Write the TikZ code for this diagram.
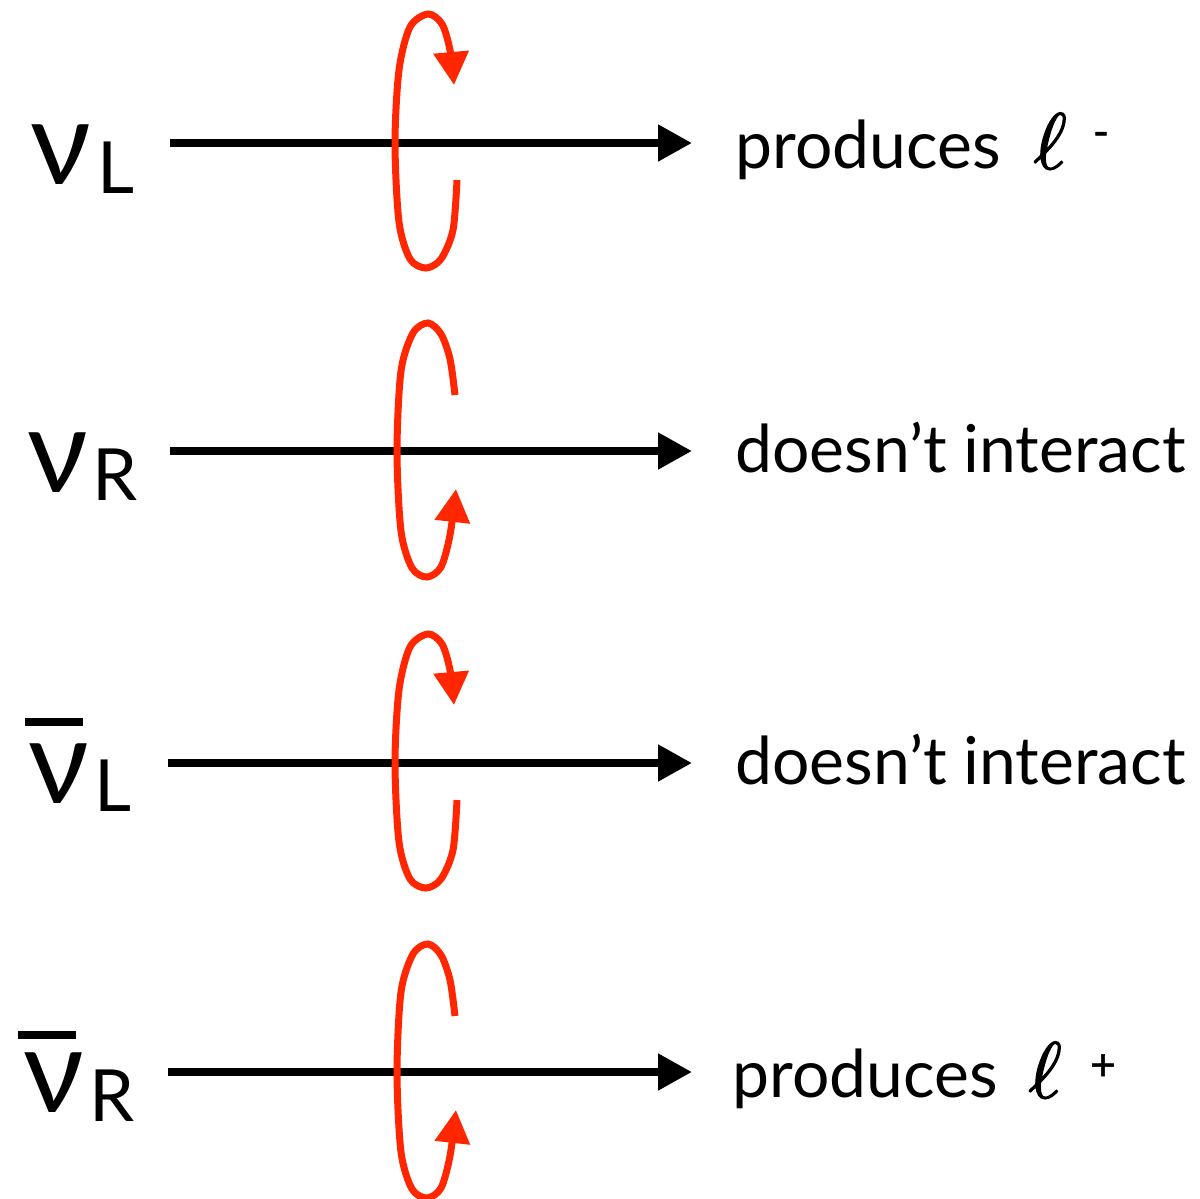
\documentclass[tikz,border=0pt]{standalone}
\usepackage{fontspec}
\setmainfont{Lato}
\newfontfamily\ellfont[FakeBold=1.6]{latinmodern-math.otf}
\newfontfamily\chgfont[FakeBold=1.2]{Lato}
\usetikzlibrary{arrows.meta}

\begin{document}
\begin{tikzpicture}[x=0.5pt, y=-0.5pt,
    axis/.style={line width=4pt, -{Triangle[length=17pt, width=17.5pt]}},
    spin/.style={line width=3.5pt, draw=spinred, -{Triangle[length=16.5pt, width=17pt]}},
    nu/.style={anchor=base west, inner sep=0pt, font=\fontsize{59}{60}\selectfont},
    hand/.style={anchor=base west, inner sep=0pt, font=\fontsize{36}{36}\selectfont},
    txt/.style={anchor=base west, inner sep=0pt, font=\fontsize{33}{36}\selectfont},
    lep/.style={anchor=base west, inner sep=0pt, font=\ellfont\fontsize{40}{40}\selectfont},
    chg/.style={anchor=base, inner sep=0pt, font=\chgfont\fontsize{22}{22}\selectfont}]
\definecolor{spinred}{RGB}{255,38,0}

\useasboundingbox (0,0) rectangle (1200,1199);

% ======================================================
% assi (frecce nere)
% ======================================================
\foreach \y/\n/\x in {143/1/170, 451/2/170, 763/3/168, 1072/4/168} {
    \coordinate (a\n) at (\x,\y);
    \coordinate (b\n) at (692,\y);
    \draw[axis] (a\n) -- (b\n);
}

% ======================================================
% spin (frecce rosse)
% ======================================================

% freccia in alto
\foreach \dy in {0,620} {
    \draw[spin]
        plot[smooth] coordinates {
        (457,180+\dy)
        (453,230+\dy)
        (441,259+\dy)
        (426,268+\dy)
        (410,259+\dy)
        (399,222+\dy)
        (395,143+\dy)
        (399,70+\dy)
        (410,27+\dy)
        (428,14+\dy)
        (442,24+\dy)
        (450,50+\dy)
        (454,85+\dy)
        };
}

% freccia in basso
\foreach \dy in {0,621} {
    \draw[spin]
        plot[smooth] coordinates {
        (455,395+\dy)
        (450,359+\dy)
        (441,334+\dy)
        (428,323+\dy)
        (413,333+\dy)
        (401,371+\dy)
        (397,451+\dy)
        (401,531+\dy)
        (412,568+\dy)
        (427,577+\dy)
        (441,567+\dy)
        (450,535+\dy)
        (456,489+\dy)
        };
}

% ======================================================
% etichette
% ======================================================
\node[nu]   (nu1) at (30,184) {ν};
\node[hand] (h1)  at (97,193) {L};

\node[nu]   (nu2) at (27,492) {ν};
\node[hand] (h2)  at (92,500) {R};

\node[nu]   (nu3) at (28,803) {ν};
\node[hand] (h3)  at (94,811) {L};
\draw[line width=4pt] (25,722) -- (83,722);

\node[nu]   (nu4) at (23,1112) {ν};
\node[hand] (h4)  at (89,1121) {R};
\draw[line width=4pt] (18,1035) -- (76,1035);

% risultati
\node[txt] (out1) at (735,168) {produces};
\node[lep] (l1)   at (1033,169) {ℓ};
\node[chg] (q1)   at (1101,147) {-};

\node[txt] (out2) at (735,472) {doesn’t interact};

\node[txt] (out3) at (735,784) {doesn’t interact};

\node[txt] (out4) at (732,1097) {produces};
\node[lep] (l4)   at (1028,1098) {ℓ};
\node[chg] (q4)   at (1103,1080) {+};

\end{tikzpicture}
\end{document}
